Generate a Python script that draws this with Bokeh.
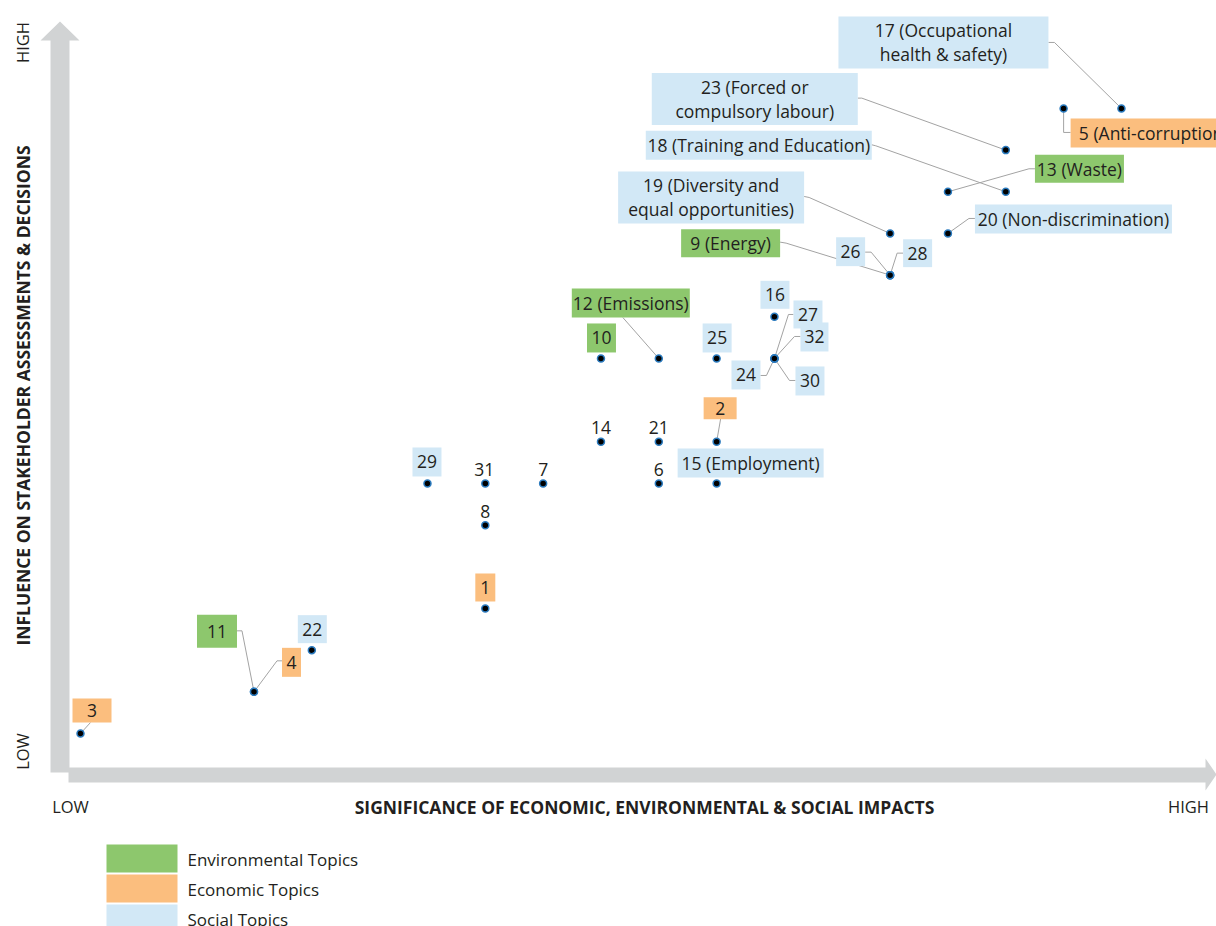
import math
from bokeh.plotting import figure
from bokeh.models import Range1d, ColumnDataSource
from bokeh.embed import file_html
from bokeh.resources import INLINE
from bokeh.core.properties import value

# ---------------- data ----------------
topic_ids = list(range(1, 33))
significance = [7, 11, 0, 3, 17, 10, 8, 7, 14, 9, 3, 10, 15, 9, 11, 12,
                18, 16, 14, 15, 10, 4, 16, 12, 11, 14, 12, 14, 6, 12, 7, 12]
influence = [3, 7, 0, 1, 15, 6, 6, 5, 11, 9, 1, 9, 13, 7, 6, 10,
             15, 13, 12, 12, 7, 2, 14, 9, 9, 11, 9, 11, 6, 9, 6, 9]
category = ["Economic", "Economic", "Economic", "Economic", "Economic",
            "None", "None", "None",
            "Environmental", "Environmental", "Environmental", "Environmental", "Environmental",
            "None", "Social", "Social", "Social", "Social", "Social", "Social",
            "None", "Social", "Social", "Social", "Social", "Social", "Social",
            "Social", "Social", "Social", "None", "Social"]
topic_names = {
    5: "Anti-corruption", 9: "Energy", 12: "Emissions", 13: "Waste",
    15: "Employment", 17: "Occupational\nhealth & safety",
    18: "Training and Education", 19: "Diversity and\nequal opportunities",
    20: "Non-discrimination", 23: "Forced or\ncompulsory labour",
}
legend_labels = ["Environmental Topics", "Economic Topics", "Social Topics"]
legend_cats = ["Environmental", "Economic", "Social"]

# ---------------- styling / layout ----------------
COLORS = {"Environmental": "#8dc76d", "Economic": "#fbbe7e", "Social": "#d2e8f6", "None": None}
TEXT = "#231f20"
ARROW = "#d1d3d4"
LEADER = "#a3a3a3"
FONT = "Open Sans"

W, H = 1216, 926
ORG = 0                        # page offset of the plot frame
SX, SY = 57.83, 41.67          # pixels per unit
X0 = -(80 - ORG) / SX
X1 = X0 + W / SX
Y1 = (733 - ORG) / SY
Y0 = Y1 - H / SY

def gx(px):  # page pixel -> data x (decorations only)
    return X0 + (px - ORG) / SX

def gy(py):
    return Y1 - (py - ORG) / SY

# label layout: offset of label centre from dot (px, y down), box w, h, leader path offsets
label_layout = {
    1: (0, -21, 20, 28, None),
    2: (3.5, -33.5, 33, 22, [(4, -23), (0, 0)]),
    3: (11.5, -23, 39, 24, [(10, -11), (0, 0)]),
    4: (37.5, -29.5, 19, 29, [(28, -31), (23, -31), (0, 0)]),
    5: (90, 24.5, 166, 29, [(7, 24), (0, 24), (0, 0)]),
    6: (0, -14, 0, 0, None),
    7: (0, -14, 0, 0, None),
    8: (0, -14, 0, 0, None),
    9: (-159.5, -32, 99, 28, [(-110, -33), (-104, -32), (0, 0)]),
    10: (0.5, -20.5, 29, 29, None),
    11: (-37, -60.5, 40, 33, [(-17, -61), (-12, -61), (0, 0)]),
    12: (-28, -55.5, 118, 29, [(-36, -41), (0, 0)]),
    13: (131.5, -23, 89, 28, [(87, -23), (81, -23), (0, 0)]),
    14: (0, -14, 0, 0, None),
    15: (34, -20.5, 146, 29, None),
    16: (0.5, -22, 29, 28, None),
    17: (-178, -66, 210, 52, [(-73, -66), (-67, -66), (0, 0)]),
    18: (-247, -46.5, 226, 29, [(-134, -47), (-130, -46), (0, 0)]),
    19: (-179, -36, 186, 52, [(-86, -37), (-81, -36), (0, 0)]),
    20: (125.5, -14.5, 197, 29, [(27, -15), (21, -15), (0, 0)]),
    21: (0, -14, 0, 0, None),
    22: (0.5, -21, 29, 28, None),
    23: (-251, -51, 206, 52, [(-148, -52), (-144, -52), (0, 0)]),
    24: (-28.5, 16.5, 29, 29, [(-14, 17), (-8, 17), (0, 0)]),
    25: (0.5, -20.5, 29, 29, None),
    26: (-39.5, -23.5, 29, 29, [(-25, -23), (-19, -23), (0, 0)]),
    27: (33.5, -44, 29, 28, [(19, -44), (14, -44), (0, 0)]),
    28: (27.5, -22, 29, 28, [(13, -22), (7, -22), (0, 0)]),
    29: (-0.5, -21.5, 29, 29, None),
    30: (35.5, 22.5, 29, 29, [(21, 22), (15, 22), (0, 0)]),
    31: (-1, -14, 0, 0, None),
    32: (40, -21.5, 28, 29, [(26, -22), (20, -22), (0, 0)]),
}

p = figure(width=W, height=H, x_range=Range1d(X0, X1), y_range=Range1d(Y0, Y1),
           output_backend="svg", toolbar_location=None, min_border=0,
           x_axis_location=None, y_axis_location=None)
p.grid.visible = False
p.outline_line_color = None
p.background_fill_color = "white"
p.border_fill_color = "white"

# ---------------- axis arrows ----------------
v_arrow = [(50, 772), (69, 772), (69, 40), (79, 40), (59.5, 21), (40, 40), (50, 40)]
h_arrow = [(68, 767), (1205, 767), (1205, 758), (1216, 774), (1205, 790), (1205, 782), (68, 782)]
p.patches(xs=[[gx(a) for a, b in v_arrow], [gx(a) for a, b in h_arrow]],
          ys=[[gy(b) for a, b in v_arrow], [gy(b) for a, b in h_arrow]],
          fill_color=ARROW, line_color=None)

# axis texts
p.text(x=[gx(22), gx(22)], y=[gy(42), gy(751)], text=["HIGH", "LOW"], angle=math.pi / 2,
       text_font=value(FONT), text_font_size="16.5px", text_color=TEXT,
       text_align="center", text_baseline="middle")
p.text(x=[gx(22)], y=[gy(395)], text=["INFLUENCE ON STAKEHOLDER ASSESSMENTS & DECISIONS"],
       angle=math.pi / 2, text_font=value(FONT), text_font_size="17.5px", text_font_style="bold",
       text_color=TEXT, text_align="center", text_baseline="middle")
p.text(x=[gx(70), gx(1188)], y=[gy(806), gy(806)], text=["LOW", "HIGH"],
       text_font=value(FONT), text_font_size="16.5px", text_color=TEXT,
       text_align="center", text_baseline="middle")
p.text(x=[gx(644)], y=[gy(806)], text=["SIGNIFICANCE OF ECONOMIC, ENVIRONMENTAL & SOCIAL IMPACTS"],
       text_font=value(FONT), text_font_size="17.5px", text_font_style="bold", text_color=TEXT,
       text_align="center", text_baseline="middle")

# ---------------- labels ----------------
lx, ly, lw, lh, lc, tx, ty, tt = [], [], [], [], [], [], [], []
leader_xs, leader_ys = [], []
for i, tid in enumerate(topic_ids):
    sx, sy = significance[i], influence[i]
    dx, dy, w, h, path = label_layout[tid]
    cx, cy = sx + dx / SX, sy - dy / SY
    label = f"{tid} ({topic_names[tid]})" if tid in topic_names else str(tid)
    if category[i] != "None":
        lx.append(cx); ly.append(cy); lw.append(w / SX); lh.append(h / SY)
        lc.append(COLORS[category[i]])
    tx.append(cx); ty.append(cy); tt.append(label)
    if path:
        leader_xs.append([sx + ox / SX for ox, oy in path])
        leader_ys.append([sy - oy / SY for ox, oy in path])

p.multi_line(xs=leader_xs, ys=leader_ys, line_color=LEADER, line_width=1)
p.rect(x=lx, y=ly, width=lw, height=lh, fill_color=lc, line_color=None)
p.text(x=tx, y=ty, text=tt, text_font=value(FONT), text_font_size="17.5px", text_color=TEXT,
       text_align="center", text_baseline="middle", text_line_height=1.0)

# dots
src = ColumnDataSource(dict(x=significance, y=influence, id=topic_ids, cat=category))
p.scatter("x", "y", source=src, size=7, fill_color="black", line_color="#2b7bbf", line_width=1.5)

# ---------------- legend ----------------
leg_top = [844, 874, 904]
p.quad(left=[gx(106)] * 3, right=[gx(177)] * 3,
       top=[gy(t) for t in leg_top], bottom=[gy(t + 28) for t in leg_top],
       fill_color=[COLORS[c] for c in legend_cats], line_color=None)
p.text(x=[gx(187)] * 3, y=[gy(t + 15) for t in leg_top], text=legend_labels,
       text_font=value(FONT), text_font_size="17px", text_color=TEXT,
       text_align="left", text_baseline="middle")

open("out.html", "w").write(file_html(p, INLINE))
